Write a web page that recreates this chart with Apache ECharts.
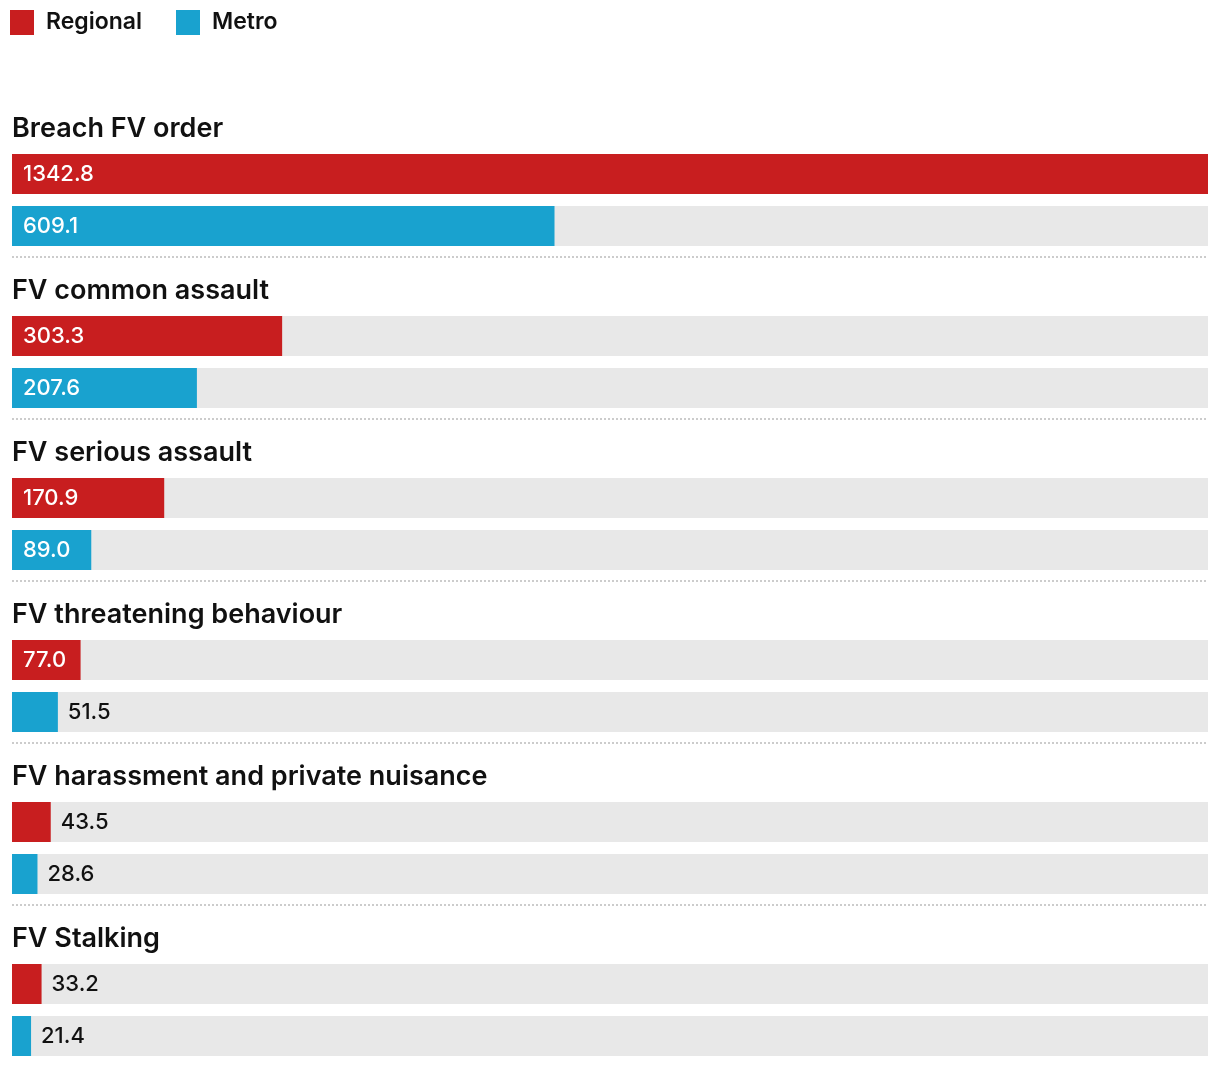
<!DOCTYPE html>
<html><head><meta charset="utf-8">
<script src="https://cdn.jsdelivr.net/npm/echarts@6/dist/echarts.min.js"></script>
<style>html,body{margin:0;padding:0;background:#fff}#c{width:1220px;height:1068px}</style>
</head><body><div id="c"></div>
<script>
const categories = ["Breach FV order","FV common assault","FV serious assault","FV threatening behaviour","FV harassment and private nuisance","FV Stalking"];
const regional = [1342.8, 303.3, 170.9, 77.0, 43.5, 33.2];
const metro = [609.1, 207.6, 89.0, 51.5, 28.6, 21.4];
const seriesNames = ["Regional","Metro"];

const RED = '#c81e1f', BLUE = '#19a2cf';
const FONT = 'Inter, "Noto Sans", sans-serif';
const maxV = Math.max(...regional, ...metro);
const plotW = 1196;
const grids = [], xAxes = [], yAxes = [], series = [], titles = [], graphics = [];
function lbl(v){
  const inside = v / maxV * plotW > 60;
  return inside
    ? {show:true, position:'insideLeft', distance:11, color:'#fff', fontSize:22, fontWeight:500, fontFamily:FONT, formatter: p => Number(p.value).toFixed(1)}
    : {show:true, position:'right', distance:10, color:'#111', fontSize:22, fontWeight:500, fontFamily:FONT, formatter: p => Number(p.value).toFixed(1)};
}
categories.forEach((c,i)=>{
  const top = 148 + 162*i;
  grids.push({left:12, width:plotW, top:top, height:104, containLabel:false});
  xAxes.push({type:'value', gridIndex:i, min:0, max:maxV, show:false});
  yAxes.push({type:'category', gridIndex:i, data:seriesNames, inverse:true, show:false});
  titles.push({text:c, left:12, top:114+162*i, padding:0, textStyle:{fontSize:27, fontWeight:600, color:'#111', fontFamily:FONT, lineHeight:30}});
  series.push({name:'Regional', type:'bar', xAxisIndex:i, yAxisIndex:i, stack:'g'+i, barWidth:40,
    showBackground:true, backgroundStyle:{color:'#e8e8e8'}, itemStyle:{color:RED},
    data:[{value:regional[i], label:lbl(regional[i])}, '-'], animation:false});
  series.push({name:'Metro', type:'bar', xAxisIndex:i, yAxisIndex:i, stack:'g'+i, barWidth:40,
    showBackground:true, backgroundStyle:{color:'#e8e8e8'}, itemStyle:{color:BLUE},
    data:['-', {value:metro[i], label:lbl(metro[i])}], animation:false});
  if (i < categories.length-1) {
    graphics.push({type:'line', shape:{x1:12, y1:257+162*i, x2:1208, y2:257+162*i},
      style:{stroke:'#cccccc', lineWidth:2, lineDash:[2,2]}});
  }
});
const chart = echarts.init(document.getElementById('c'), null, {renderer:'canvas'});
chart.setOption({
  animation:false,
  title:titles,
  legend:{data:seriesNames, left:10, top:10, padding:0, itemWidth:24, itemHeight:25, itemGap:34, icon:'rect',
    textStyle:{fontSize:23, fontWeight:600, color:'#111', fontFamily:FONT, padding:[2,0,0,7]}},
  grid:grids, xAxis:xAxes, yAxis:yAxes, series:series, graphic:graphics
});
</script></body></html>
